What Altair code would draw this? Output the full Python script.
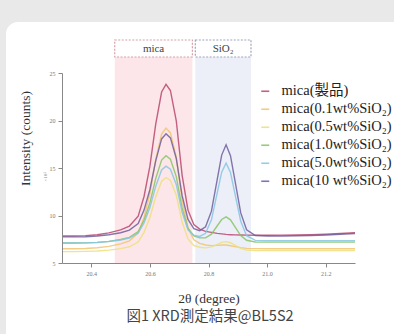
import altair as alt
import pandas as pd

# 2θ sampling positions (degree)
two_theta = [20.30, 20.34, 20.38, 20.42, 20.46, 20.50, 20.53, 20.56, 20.58, 20.60,
             20.62, 20.64, 20.655, 20.67, 20.69, 20.71, 20.73, 20.75, 20.77, 20.79,
             20.81, 20.83, 20.845, 20.86, 20.875, 20.89, 20.91, 20.93, 20.96, 21.00,
             21.05, 21.10, 21.15, 21.20, 21.25, 21.30]

# intensities (x10^3 counts)
mica_product = [7.85, 7.85, 7.88, 7.98, 8.17, 8.49, 8.89, 9.92, 12.0, 15.19,
                19.65, 23.0, 23.8, 23.16, 19.97, 14.23, 10.56, 9.05, 8.57, 8.33,
                8.22, 8.12, 8.06, 8.01, 7.98, 7.96, 7.95, 7.93, 7.92, 7.92,
                7.93, 7.95, 7.98, 8.03, 8.1, 8.2]
mica_01 = [6.5, 6.5, 6.53, 6.6, 6.75, 7.01, 7.33, 8.15, 9.8, 12.34,
           15.9, 18.57, 19.2, 18.69, 16.15, 11.58, 8.66, 7.45, 7.07, 6.9,
           6.83, 6.86, 6.89, 6.89, 6.82, 6.73, 6.62, 6.54, 6.51, 6.5,
           6.5, 6.5, 6.5, 6.5, 6.5, 6.5]
mica_05 = [6.2, 6.2, 6.22, 6.26, 6.36, 6.51, 6.71, 7.21, 8.23, 9.79,
           11.97, 13.61, 14.0, 13.69, 12.13, 9.32, 7.53, 6.84, 6.66, 6.59,
           6.69, 6.96, 7.17, 7.25, 7.13, 6.88, 6.55, 6.36, 6.3, 6.3,
           6.3, 6.3, 6.3, 6.3, 6.3, 6.3]
mica_10 = [7.1, 7.1, 7.12, 7.17, 7.28, 7.47, 7.7, 8.3, 9.49, 11.33,
           13.91, 15.84, 16.3, 15.93, 14.09, 10.78, 8.66, 7.84, 7.64, 7.65,
           8.03, 8.92, 9.58, 9.86, 9.54, 8.83, 7.88, 7.39, 7.21, 7.2,
           7.2, 7.2, 7.2, 7.2, 7.2, 7.2]
mica_50 = [7.1, 7.1, 7.12, 7.16, 7.26, 7.42, 7.63, 8.15, 9.21, 10.83,
           13.09, 14.8, 15.2, 14.88, 13.26, 10.34, 8.48, 7.92, 7.8, 8.12,
           9.54, 12.4, 14.56, 15.51, 14.52, 12.32, 9.4, 7.88, 7.38, 7.35,
           7.35, 7.35, 7.35, 7.35, 7.35, 7.35]
mica_100 = [7.75, 7.75, 7.77, 7.84, 7.97, 8.18, 8.46, 9.16, 10.57, 12.74,
            15.78, 18.06, 18.6, 18.17, 16.0, 12.09, 9.59, 8.62, 8.4, 8.81,
            10.46, 13.83, 16.36, 17.45, 16.3, 13.72, 10.27, 8.5, 7.89, 7.85,
            7.85, 7.87, 7.9, 7.95, 8.02, 8.1]

series_names = ["mica(製品)", "mica(0.1wt%SiO₂)", "mica(0.5wt%SiO₂)",
                "mica(1.0wt%SiO₂)", "mica(5.0wt%SiO₂)", "mica(10 wt%SiO₂)"]
series_values = [mica_product, mica_01, mica_05, mica_10, mica_50, mica_100]
series_colors = ["#b9476f", "#f1c46e", "#ece07c", "#86c464", "#86c6e2", "#6e5e9e"]

band_names = ["mica", "SiO₂"]
band_start = [20.48, 20.755]
band_end = [20.745, 20.945]
band_fill = ["#fde6e9", "#eceef8"]
band_stroke = ["#d6a0a8", "#9ea5bf"]

x_ticks = [20.4, 20.6, 20.8, 21.0, 21.2]
y_ticks = [5, 10, 15, 20, 25]

rows = []
for name, vals in zip(series_names, series_values):
    for t, v in zip(two_theta, vals):
        rows.append({"theta": t, "intensity": v, "sample": name})
df = pd.DataFrame(rows)

bands_df = pd.DataFrame({"band": band_names, "x1": band_start, "x2": band_end,
                         "fill": band_fill, "stroke": band_stroke})
one = pd.DataFrame({"k": [0]})

W, H = 293, 190
SERIF = "'Liberation Serif', 'DejaVu Serif', 'Noto Sans CJK JP', serif"

xscale = alt.Scale(domain=[20.3, 21.3], nice=False, zero=False)
yscale = alt.Scale(domain=[5, 25], nice=False, zero=False)

x_axis = alt.Axis(values=x_ticks, format=".1f", grid=False, tickSize=4, labelPadding=3,
                  labelFontSize=6, labelFont=SERIF, labelColor="#777",
                  domainColor="#888", tickColor="#888", zindex=2,
                  title="2θ (degree)", titleFont=SERIF, titleFontSize=13.5,
                  titleFontWeight="normal", titleColor="#333",
                  titleY=35, titleBaseline="middle")
y_axis = alt.Axis(values=y_ticks, grid=False, tickSize=4, labelPadding=3,
                  labelFontSize=6, labelFont=SERIF, labelColor="#777",
                  domainColor="#888", tickColor="#888", zindex=2,
                  title="Intensity (counts)", titleFont=SERIF, titleFontSize=13.5,
                  titleFontWeight="normal", titleColor="#333",
                  titleX=-37, titleY=65, titleBaseline="middle", titleAlign="center")

card = alt.Chart(one).mark_rect(fill="white", cornerRadius=12).encode(
    x=alt.value(-56), x2=alt.value(360), y=alt.value(-51), y2=alt.value(290))

bands = alt.Chart(bands_df).mark_rect().encode(
    x=alt.X("x1:Q", scale=xscale, axis=x_axis), x2="x2:Q",
    y=alt.value(-33), y2=alt.value(H),
    fill=alt.Fill("fill:N", scale=None))

boxes = alt.Chart(bands_df).mark_rect(fill="white", strokeWidth=1.2, strokeDash=[2, 1.5]).encode(
    x=alt.X("x1:Q", scale=xscale, axis=x_axis), x2="x2:Q",
    y=alt.value(-33), y2=alt.value(-16),
    stroke=alt.Stroke("stroke:N", scale=None))

box_text = alt.Chart(bands_df).transform_calculate(
    mid="(datum.x1 + datum.x2) / 2").mark_text(
    font=SERIF, fontSize=11, color="#444", baseline="middle").encode(
    x=alt.X("mid:Q", scale=xscale, axis=x_axis),
    y=alt.value(-24.5), text="band:N")

lines = alt.Chart(df).mark_line(strokeWidth=1.4, opacity=0.85).encode(
    x=alt.X("theta:Q", scale=xscale, axis=x_axis),
    y=alt.Y("intensity:Q", scale=yscale, axis=y_axis),
    color=alt.Color("sample:N", sort=series_names,
                    scale=alt.Scale(domain=series_names, range=series_colors),
                    legend=alt.Legend(orient="none", legendX=196, legendY=11, title=None,
                                      symbolType="stroke", symbolSize=64,
                                      symbolStrokeWidth=1.6, labelFont=SERIF,
                                      labelFontSize=14.5, labelColor="#222",
                                      rowPadding=3, labelOffset=9, padding=0,
                                      labelLimit=200)),
    detail="sample:N", order="theta:Q")

mult = alt.Chart(one).mark_text(text="×10³", fontSize=5, color="#888", angle=270,
                                font=SERIF).encode(x=alt.value(-17), y=alt.value(104))

caption = alt.Chart(one).mark_text(text="図1 XRD測定結果@BL5S2", fontSize=14.5,
                                   color="#444", font="'Noto Sans CJK JP', sans-serif").encode(
    x=alt.value(148), y=alt.value(244))

chart = alt.layer(card, bands, boxes, box_text, lines, mult, caption).properties(
    width=W, height=H,
    padding={"left": 62, "top": 73, "right": 39, "bottom": 71},
    autosize=alt.AutoSizeParams(type="none"),
    background="#e9e9e9",
).configure_view(stroke=None)

chart.save("out.html", embed_options={"renderer": "svg", "actions": False})
